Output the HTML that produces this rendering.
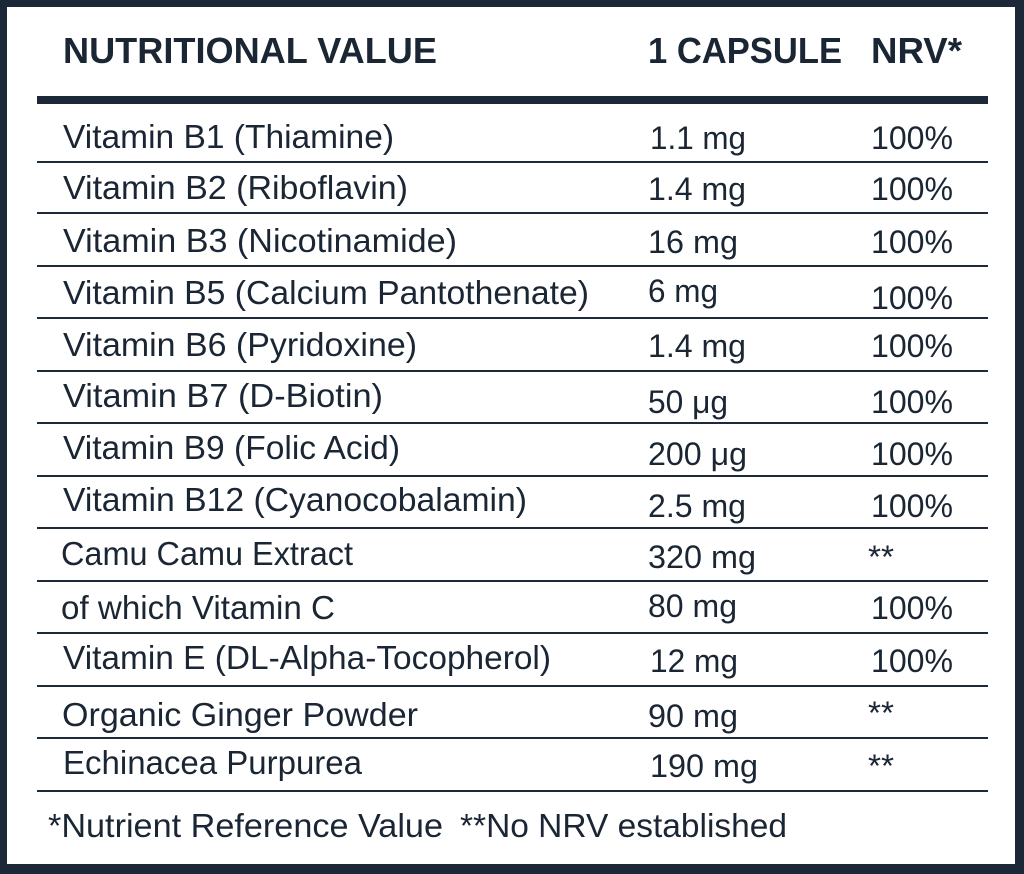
<!DOCTYPE html>
<html>
<head>
<meta charset="utf-8">
<style>
  html,body{margin:0;padding:0;background:#fff;}
  svg{display:block;}
  text{font-family:"Liberation Sans", Arial, sans-serif; fill:#1b2634;}
</style>
</head>
<body>
<svg width="1024" height="874" viewBox="0 0 1024 874" xmlns="http://www.w3.org/2000/svg">
  <rect x="0" y="0" width="1024" height="874" fill="#1c2837"/>
  <rect x="7" y="7" width="1008" height="857" fill="#ffffff"/>

  <!-- header -->
  <g font-weight="bold" font-size="36">
    <text x="63" y="63" textLength="374" lengthAdjust="spacingAndGlyphs">NUTRITIONAL VALUE</text>
    <text x="648" y="63" textLength="194" lengthAdjust="spacingAndGlyphs">1 CAPSULE</text>
    <text x="871" y="63" textLength="91" lengthAdjust="spacingAndGlyphs">NRV*</text>
  </g>
  <rect x="37" y="96" width="951" height="8" fill="#1c2837"/>

  <!-- row lines -->
  <g fill="#1f2a38">
    <rect x="37" y="161" width="951" height="2"/>
    <rect x="37" y="212" width="951" height="2"/>
    <rect x="37" y="265" width="951" height="2"/>
    <rect x="37" y="317" width="951" height="2"/>
    <rect x="37" y="370" width="951" height="2"/>
    <rect x="37" y="422" width="951" height="2"/>
    <rect x="37" y="475" width="951" height="2"/>
    <rect x="37" y="527" width="951" height="2"/>
    <rect x="37" y="580" width="951" height="2"/>
    <rect x="37" y="632" width="951" height="2"/>
    <rect x="37" y="685" width="951" height="2"/>
    <rect x="37" y="737" width="951" height="2"/>
    <rect x="37" y="790" width="951" height="2"/>
  </g>

  <!-- labels -->
  <g font-size="33">
    <text x="63" y="148" textLength="331" lengthAdjust="spacingAndGlyphs">Vitamin B1 (Thiamine)</text>
    <text x="63" y="199" textLength="345" lengthAdjust="spacingAndGlyphs">Vitamin B2 (Riboflavin)</text>
    <text x="63" y="252" textLength="394" lengthAdjust="spacingAndGlyphs">Vitamin B3 (Nicotinamide)</text>
    <text x="63" y="304" textLength="526" lengthAdjust="spacingAndGlyphs">Vitamin B5 (Calcium Pantothenate)</text>
    <text x="63" y="356" textLength="354" lengthAdjust="spacingAndGlyphs">Vitamin B6 (Pyridoxine)</text>
    <text x="63" y="407" textLength="320" lengthAdjust="spacingAndGlyphs">Vitamin B7 (D-Biotin)</text>
    <text x="63" y="459" textLength="337" lengthAdjust="spacingAndGlyphs">Vitamin B9 (Folic Acid)</text>
    <text x="63" y="511" textLength="464" lengthAdjust="spacingAndGlyphs">Vitamin B12 (Cyanocobalamin)</text>
    <text x="61" y="565" textLength="292" lengthAdjust="spacingAndGlyphs">Camu Camu Extract</text>
    <text x="61" y="619" textLength="274" lengthAdjust="spacingAndGlyphs">of which Vitamin C</text>
    <text x="63" y="669" textLength="488" lengthAdjust="spacingAndGlyphs">Vitamin E (DL-Alpha-Tocopherol)</text>
    <text x="62" y="726" textLength="356" lengthAdjust="spacingAndGlyphs">Organic Ginger Powder</text>
    <text x="63" y="774" textLength="299" lengthAdjust="spacingAndGlyphs">Echinacea Purpurea</text>
  </g>

  <!-- values -->
  <g font-size="32">
    <text x="650" y="149" textLength="96" lengthAdjust="spacingAndGlyphs">1.1 mg</text>
    <text x="648" y="200" textLength="98" lengthAdjust="spacingAndGlyphs">1.4 mg</text>
    <text x="648" y="253" textLength="90" lengthAdjust="spacingAndGlyphs">16 mg</text>
    <text x="648" y="302" textLength="70" lengthAdjust="spacingAndGlyphs">6 mg</text>
    <text x="648" y="357" textLength="98" lengthAdjust="spacingAndGlyphs">1.4 mg</text>
    <text x="648" y="413" textLength="80" lengthAdjust="spacingAndGlyphs">50 μg</text>
    <text x="648" y="465" textLength="99" lengthAdjust="spacingAndGlyphs">200 μg</text>
    <text x="648" y="517" textLength="98" lengthAdjust="spacingAndGlyphs">2.5 mg</text>
    <text x="648" y="568" textLength="108" lengthAdjust="spacingAndGlyphs">320 mg</text>
    <text x="648" y="617" textLength="89" lengthAdjust="spacingAndGlyphs">80 mg</text>
    <text x="650" y="672" textLength="88" lengthAdjust="spacingAndGlyphs">12 mg</text>
    <text x="648" y="727" textLength="90" lengthAdjust="spacingAndGlyphs">90 mg</text>
    <text x="650" y="777" textLength="108" lengthAdjust="spacingAndGlyphs">190 mg</text>
  </g>

  <!-- NRV -->
  <g font-size="32">
    <text x="871" y="149" textLength="82" lengthAdjust="spacingAndGlyphs">100%</text>
    <text x="871" y="200" textLength="82" lengthAdjust="spacingAndGlyphs">100%</text>
    <text x="871" y="253" textLength="82" lengthAdjust="spacingAndGlyphs">100%</text>
    <text x="871" y="309" textLength="82" lengthAdjust="spacingAndGlyphs">100%</text>
    <text x="871" y="357" textLength="82" lengthAdjust="spacingAndGlyphs">100%</text>
    <text x="871" y="413" textLength="82" lengthAdjust="spacingAndGlyphs">100%</text>
    <text x="871" y="465" textLength="82" lengthAdjust="spacingAndGlyphs">100%</text>
    <text x="871" y="517" textLength="82" lengthAdjust="spacingAndGlyphs">100%</text>
    <text x="868" y="568" textLength="26" lengthAdjust="spacingAndGlyphs">**</text>
    <text x="871" y="619" textLength="82" lengthAdjust="spacingAndGlyphs">100%</text>
    <text x="871" y="672" textLength="82" lengthAdjust="spacingAndGlyphs">100%</text>
    <text x="868" y="724" textLength="26" lengthAdjust="spacingAndGlyphs">**</text>
    <text x="868" y="777" textLength="26" lengthAdjust="spacingAndGlyphs">**</text>
  </g>

  <!-- footer -->
  <g font-size="33">
    <text x="48" y="837" textLength="395" lengthAdjust="spacingAndGlyphs">*Nutrient Reference Value</text>
    <text x="460" y="837" textLength="327" lengthAdjust="spacingAndGlyphs">**No NRV established</text>
  </g>
</svg>
</body>
</html>
